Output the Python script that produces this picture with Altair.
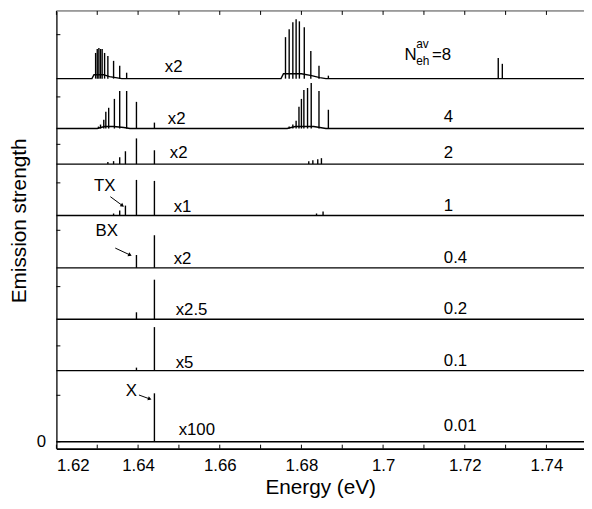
import altair as alt
import pandas as pd

FONT = "Liberation Sans"
X_MIN, X_MAX = 1.62, 1.7492
Y_MIN, Y_MAX = -7, 436
W, H = 534, 443

# emission levels (N_eh^av), vertical offsets of each trace, magnification labels
levels = ["8", "4", "2", "1", "0.4", "0.2", "0.1", "0.01"]
offsets = [367.5, 317, 281, 229, 176, 124, 72, 0]
multipliers = ["x2", "x2", "x2", "x1", "x2", "x2.5", "x5", "x100"]

# peak energies (eV) and heights for each level
peak_E = {
    "8": [1.6296, 1.6300, 1.6304, 1.6308, 1.6312, 1.6318, 1.6326, 1.6340, 1.6355, 1.6372,
          1.6761, 1.6770, 1.6779, 1.6787, 1.6795, 1.6807, 1.6823, 1.6843, 1.6866,
          1.7282, 1.7292],
    "4": [1.6303, 1.6308, 1.6316, 1.6321, 1.6328, 1.6342, 1.6355, 1.6372, 1.6396, 1.6440,
          1.6770, 1.6779, 1.6787, 1.6794, 1.6800, 1.6806, 1.6815, 1.6824, 1.6843, 1.6866],
    "2": [1.6326, 1.6340, 1.6355, 1.6369, 1.6396, 1.6440, 1.6818, 1.6828, 1.6840, 1.6849],
    "1": [1.6340, 1.6355, 1.6369, 1.6396, 1.6440, 1.6837, 1.6853],
    "0.4": [1.6396, 1.6440],
    "0.2": [1.6396, 1.6440],
    "0.1": [1.6396, 1.6440],
    "0.01": [1.6440],
}
peak_h = {
    "8": [26, 30, 31, 30, 30, 26, 23, 18, 13, 6,
          42, 50, 57, 60, 58, 52, 28, 13, 3,
          21, 15],
    "4": [2, 4, 9, 17, 21, 30, 38, 38, 27, 6,
          2, 4, 8, 22, 30, 39, 41, 46, 38, 19],
    "2": [2, 3, 7, 13, 26, 14, 3, 4, 5, 6],
    "1": [2, 5, 10, 36, 35, 2, 4],
    "0.4": [13, 33],
    "0.2": [7, 40],
    "0.1": [3, 44],
    "0.01": [49],
}
# broad pedestal under the multi-peak groups
ped_E = {
    "8": [1.6200, 1.6287, 1.6292, 1.6315, 1.6330, 1.6345, 1.6360, 1.6750, 1.6756, 1.6800,
          1.6825, 1.6845, 1.6860, 1.7492],
    "4": [1.6200, 1.6300, 1.6318, 1.6340, 1.6365, 1.6380, 1.6765, 1.6785, 1.6830, 1.6860, 1.7492],
}
ped_h = {
    "8": [0, 0, 4, 4, 2, 1, 0, 0, 5, 5, 3, 1, 0, 0],
    "4": [0, 0, 2, 2, 1, 0, 0, 2, 2, 0, 0],
}

x_major = [1.62, 1.64, 1.66, 1.68, 1.70, 1.72, 1.74]
x_minor = [1.63, 1.65, 1.67, 1.69, 1.71, 1.73]
y_ticks = [412, 349, 301, 262, 214, 157, 97, 47, 0]

# ---- build tables ----
base_rows, peak_rows = [], []
for lev, off in zip(levels, offsets):
    es = ped_E.get(lev, [X_MIN, X_MAX])
    hs = ped_h.get(lev, [0, 0])
    for e, h in zip(es, hs):
        base_rows.append({"lev": lev, "E": e, "v": off + h})
    for e, h in zip(peak_E[lev], peak_h[lev]):
        peak_rows.append({"lev": lev, "E": e, "v": off, "v2": off + h})
base_df = pd.DataFrame(base_rows)
peak_df = pd.DataFrame(peak_rows)

mult_E = [1.64655, 1.64728, 1.64776, 1.64873, 1.64873, 1.64921, 1.64921, 1.64993]
mult_v = [374, 322, 287, 233, 180, 128, 75, 7]
mult_df = pd.DataFrame({"E": mult_E, "v": mult_v, "t": multipliers})

lev_E = 1.71487
lev_v = [None, 324, 287, 234, 181, 129, 77, 11]
lev_df = pd.DataFrame({"E": [lev_E] * 7, "v": lev_v[1:], "t": levels[1:]})

n8_big = pd.DataFrame({"E": [1.70522, 1.71198], "v": [386, 386], "t": ["N", "=8"]})
n8_small = pd.DataFrame({"E": [1.70811, 1.70811], "v": [399, 381], "t": ["av", "eh"]})

ann_df = pd.DataFrame({"E": [1.63183, 1.63231, 1.63835], "v": [259, 213, 51], "t": ["TX", "BX", "X"]})
arrow_df = pd.DataFrame({
    "E": [1.63321, 1.63441, 1.64021], "v": [248, 196, 47.3],
    "E2": [1.63617, 1.63803, 1.64286], "v2": [239, 189, 43.3],
    "ang": [36, 25, 20],
})
head_df = pd.DataFrame({"E": arrow_df["E2"], "v": arrow_df["v2"], "ang": arrow_df["ang"]})

xt_df = pd.DataFrame({"E": x_major + x_minor})
yt_df = pd.DataFrame({"v": y_ticks})

xs = alt.Scale(domain=[X_MIN, X_MAX], nice=False, zero=False)
ys = alt.Scale(domain=[Y_MIN, Y_MAX], nice=False, zero=False)
x_axis = alt.Axis(values=x_major, format=".2~f", ticks=False, grid=False, labelFontSize=17,
                  labelFont=FONT, labelPadding=9, labelColor="black", title="Energy (eV)",
                  titleFont=FONT, titleFontSize=21, titleFontWeight="normal", titleColor="black",
                  titlePadding=3, domainColor="black", domainWidth=2)
y_axis = alt.Axis(values=[0], ticks=False, grid=False, labelFontSize=17, labelFont=FONT,
                  labelPadding=11, labelColor="black", title="Emission strength", titleFont=FONT,
                  titleFontSize=21, titleFontWeight="normal", titleColor="black",
                  titleX=-37, titleY=212, titleAngle=-90, titleAlign="center",
                  titleBaseline="middle", domainColor="black", domainWidth=1.3)
X = alt.X("E:Q", scale=xs, axis=x_axis)
Y = alt.Y("v:Q", scale=ys, axis=y_axis)

baselines = alt.Chart(base_df).mark_line(color="black", strokeWidth=1.4, interpolate="linear").encode(
    x=X, y=Y, detail="lev:N", order="E:Q")
spikes = alt.Chart(peak_df).mark_rule(color="black", strokeWidth=1.4).encode(
    x=X, y=Y, y2="v2:Q")
top_frame = alt.Chart(pd.DataFrame({"E": [X_MIN], "E2": [X_MAX]})).mark_rule(
    color="#444", strokeWidth=1).encode(x=X, x2="E2:Q", y=alt.value(0))
xt_bot = alt.Chart(xt_df).mark_rule(color="black", strokeWidth=1).encode(
    x=X, y=alt.value(H), y2=alt.value(H - 4))
xt_top = alt.Chart(xt_df).mark_rule(color="black", strokeWidth=1).encode(
    x=X, y=alt.value(0), y2=alt.value(4))
yt = alt.Chart(yt_df).mark_rule(color="black", strokeWidth=1).encode(
    y=Y, x=alt.value(0), x2=alt.value(4))

txt = dict(font=FONT, color="black", align="left", baseline="alphabetic")
mult_text = alt.Chart(mult_df).mark_text(fontSize=17, **txt).encode(x=X, y=Y, text="t:N")
lev_text = alt.Chart(lev_df).mark_text(fontSize=17, **txt).encode(x=X, y=Y, text="t:N")
n8_text = alt.Chart(n8_big).mark_text(fontSize=17, **txt).encode(x=X, y=Y, text="t:N")
n8_sub = alt.Chart(n8_small).mark_text(fontSize=12, **txt).encode(x=X, y=Y, text="t:N")
ann_text = alt.Chart(ann_df).mark_text(fontSize=17, font=FONT, color="black", align="center",
                                        baseline="middle").encode(x=X, y=Y, text="t:N")
arrows = alt.Chart(arrow_df).mark_rule(color="black", strokeWidth=1).encode(
    x=X, y=Y, x2="E2:Q", y2="v2:Q")
heads = alt.Chart(head_df).mark_point(shape="triangle-right", filled=True, size=18,
                                      color="black", opacity=1).encode(
    x=X, y=Y, angle=alt.Angle("ang:Q", scale=None))

chart = alt.layer(
    baselines, spikes, top_frame, xt_bot, xt_top, yt,
    mult_text, lev_text, n8_text, n8_sub, ann_text, arrows, heads,
).properties(
    width=W, height=H, autosize="none",
    padding={"left": 49, "top": 0, "right": 0, "bottom": 50},
).configure_view(stroke=None)

chart.save("out.html", embed_options={"renderer": "svg", "actions": False})
